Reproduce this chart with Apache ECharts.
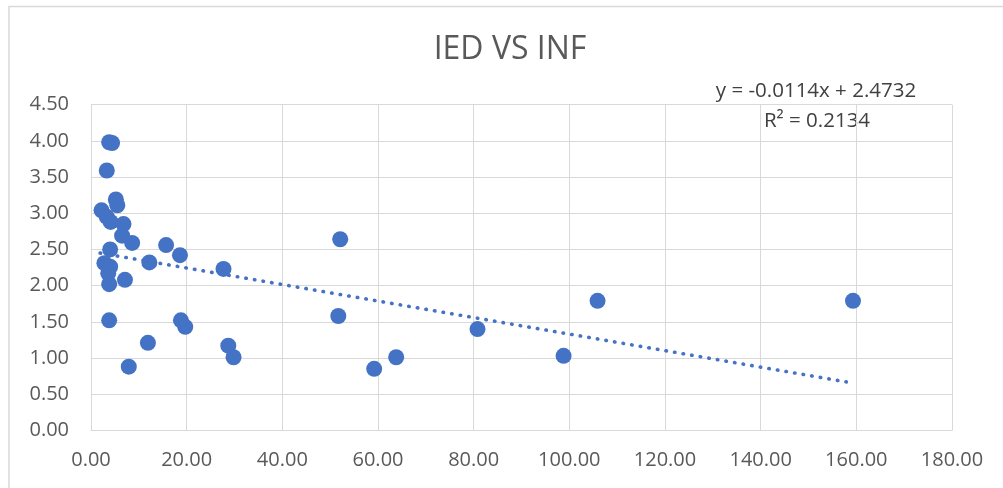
<!DOCTYPE html>
<html>
<head>
<meta charset="utf-8">
<script src="https://cdn.jsdelivr.net/npm/echarts@6/dist/echarts.min.js"></script>
<style>
html,body{margin:0;padding:0;background:#fff;}
#chart{width:1003px;height:488px;}
</style>
</head>
<body>
<div id="chart"></div>
<script>
// INF values (x)
var infValues = [3.8, 4.4, 3.3, 2.2, 3.3, 4.1, 5.2, 5.5, 6.8, 6.5, 8.6, 4.0, 15.7, 18.6, 12.2, 2.8, 4.0, 3.6, 3.8, 7.1, 27.7, 52.1, 3.8, 18.8, 19.7, 11.9, 28.7, 29.8, 7.9, 51.7, 59.2, 63.8, 80.8, 98.8, 105.9, 159.3];
// IED values (y)
var iedValues = [3.98, 3.97, 3.59, 3.04, 2.95, 2.88, 3.19, 3.11, 2.85, 2.69, 2.59, 2.50, 2.56, 2.42, 2.32, 2.31, 2.26, 2.17, 2.02, 2.08, 2.23, 2.64, 1.52, 1.52, 1.43, 1.21, 1.17, 1.01, 0.88, 1.58, 0.85, 1.01, 1.40, 1.03, 1.79, 1.79];
// Linear trendline endpoints (y = -0.0114x + 2.4732)
var trendX = [1.9, 157.9];
var trendY = [2.45, 0.67];
var xTicks = {min: 0, max: 180, interval: 20};
var yTicks = {min: 0, max: 4.5, interval: 0.5};
var titleText = 'IED VS INF';
var equationText = 'y = -0.0114x + 2.4732';
var r2Text = 'R² = 0.2134';

var points = infValues.map(function (x, i) { return [x, iedValues[i]]; });
var trend = trendX.map(function (x, i) { return [x, trendY[i]]; });

var chart = echarts.init(document.getElementById('chart'), null, {renderer: 'canvas'});
var font = '"Open Sans", "Liberation Sans", sans-serif';
chart.setOption({
  animation: false,
  backgroundColor: '#ffffff',
  grid: {left: 91, right: 51, top: 104.6, bottom: 57.6, containLabel: false},
  xAxis: {
    type: 'value',
    min: xTicks.min, max: xTicks.max, interval: xTicks.interval,
    axisLine: {show: true, lineStyle: {color: '#d9d9d9', width: 1}},
    axisTick: {show: false},
    splitLine: {show: true, lineStyle: {color: '#d9d9d9', width: 1}},
    axisLabel: {
      margin: 20,
      fontFamily: font, fontSize: 20, color: '#595959',
      formatter: function (v) { return v.toFixed(2); }
    }
  },
  yAxis: {
    type: 'value',
    min: yTicks.min, max: yTicks.max, interval: yTicks.interval,
    axisLine: {show: true, lineStyle: {color: '#d9d9d9', width: 1}},
    axisTick: {show: false},
    splitLine: {show: true, lineStyle: {color: '#d9d9d9', width: 1}},
    axisLabel: {
      margin: 22,
      fontFamily: font, fontSize: 20, color: '#595959',
      formatter: function (v) { return v.toFixed(2); }
    }
  },
  series: [
    {
      type: 'line',
      data: trend,
      symbol: 'none',
      silent: true,
      z: 1,
      lineStyle: {color: '#4472C4', width: 3.6, type: [0.5, 8.2], cap: 'round'}
    },
    {
      type: 'scatter',
      data: points,
      symbol: 'circle',
      symbolSize: 16,
      z: 2,
      itemStyle: {color: '#4472C4', opacity: 1}
    }
  ],
  graphic: [
    {
      type: 'polyline',
      shape: {points: [[9, 600], [9, 6.5], [1100, 6.5]]},
      style: {stroke: '#d9d9d9', lineWidth: 1.5, fill: null},
      silent: true
    },
    {
      type: 'text',
      x: 510, y: 50,
      style: {text: titleText, fontFamily: font, fontSize: 32, fill: '#595959', align: 'center', verticalAlign: 'middle'}
    },
    {
      type: 'text',
      x: 816, y: 91,
      style: {text: equationText, fontFamily: font, fontSize: 20.5, fill: '#404040', align: 'center', verticalAlign: 'middle'}
    },
    {
      type: 'text',
      x: 817, y: 121,
      style: {text: r2Text, fontFamily: font, fontSize: 20.5, fill: '#404040', align: 'center', verticalAlign: 'middle'}
    }
  ]
});
</script>
</body>
</html>
